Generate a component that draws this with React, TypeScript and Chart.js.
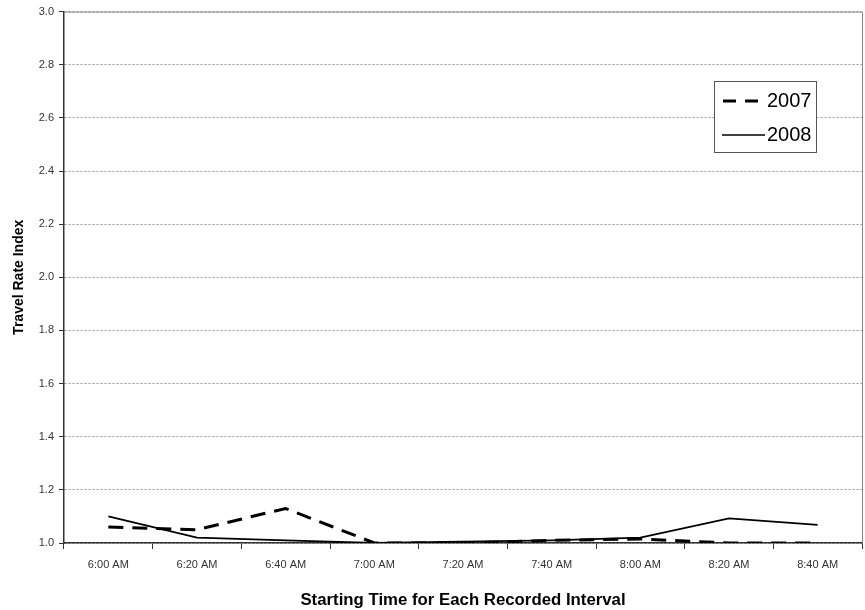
import React, { useEffect, useRef } from "react";
import { Chart, registerables } from "chart.js";

Chart.register(...registerables);

const categories = ["6:00 AM", "6:20 AM", "6:40 AM", "7:00 AM", "7:20 AM", "7:40 AM", "8:00 AM", "8:20 AM", "8:40 AM"];
const series2007 = [1.06, 1.05, 1.13, 1.0, 1.0, 1.01, 1.015, 1.0, 1.0];
const series2008 = [1.1, 1.02, 1.01, 1.0, 1.005, 1.01, 1.02, 1.093, 1.068];
const yTicks = [1.0, 1.2, 1.4, 1.6, 1.8, 2.0, 2.2, 2.4, 2.6, 2.8, 3.0];

const FONT = "'Liberation Sans', Arial, sans-serif";

const frameAndLegend = {
  id: "frameAndLegend",
  afterDraw(chart: any) {
    const { ctx, chartArea } = chart;
    ctx.save();
    ctx.strokeStyle = "#888";
    ctx.lineWidth = 1;
    ctx.beginPath();
    ctx.moveTo(chartArea.left, chartArea.top + 0.5);
    ctx.lineTo(chartArea.right + 0.5, chartArea.top + 0.5);
    ctx.lineTo(chartArea.right + 0.5, chartArea.bottom);
    ctx.stroke();
    const x = 714, y = 81, w = 102, h = 71;
    ctx.fillStyle = "#fff";
    ctx.fillRect(x, y, w, h);
    ctx.strokeStyle = "#555";
    ctx.lineWidth = 1;
    ctx.strokeRect(x + 0.5, y + 0.5, w, h);
    ctx.strokeStyle = "#000";
    ctx.lineWidth = 3;
    ctx.setLineDash([13, 9]);
    ctx.beginPath();
    ctx.moveTo(723, 101);
    ctx.lineTo(764, 101);
    ctx.stroke();
    ctx.setLineDash([]);
    ctx.lineWidth = 1.5;
    ctx.beginPath();
    ctx.moveTo(722, 135);
    ctx.lineTo(765, 135);
    ctx.stroke();
    ctx.fillStyle = "#000";
    ctx.font = "20px " + FONT;
    ctx.textBaseline = "middle";
    ctx.fillText("2007", 767, 101);
    ctx.fillText("2008", 767, 135);
    ctx.restore();
  },
};

export default function App() {
  const ref = useRef<HTMLCanvasElement>(null);
  useEffect(() => {
    if (!ref.current) return;
    const chart = new Chart(ref.current, {
      type: "line",
      data: {
        labels: categories,
        datasets: [
          {
            label: "2007",
            data: series2007,
            borderColor: "#000",
            borderWidth: 3,
            borderDash: [15, 9],
            pointRadius: 0,
            fill: false,
            tension: 0,
          },
          {
            label: "2008",
            data: series2008,
            borderColor: "#000",
            borderWidth: 1.8,
            pointRadius: 0,
            fill: false,
            tension: 0,
          },
        ],
      },
      options: {
        animation: false,
        responsive: false,
        maintainAspectRatio: false,
        layout: { padding: { top: 10, right: 3, left: 0, bottom: 0 } },
        plugins: { legend: { display: false }, tooltip: { enabled: false } },
        scales: {
          x: {
            offset: true,
            grid: {
              display: true,
              drawOnChartArea: false,
              offset: true,
              tickLength: 6,
              color: "#333",
            },
            border: { color: "#333", width: 1.5 },
            ticks: {
              color: "#333",
              font: { family: FONT, size: 11 },
              padding: 9,
              maxRotation: 0,
            },
            title: {
              display: true,
              text: "Starting Time for Each Recorded Interval",
              color: "#000",
              font: { family: FONT, size: 16.8, weight: "bold" },
              padding: { top: 13, bottom: 0 },
            },
            afterFit(scale: any) {
              scale.height = 67;
            },
          },
          y: {
            min: 1.0,
            max: 3.0,
            afterBuildTicks(scale: any) {
              scale.ticks = yTicks.map((v) => ({ value: v }));
            },
            grid: {
              color: "#999",
              tickColor: "#333",
              tickLength: 5,
            } as any,
            border: { color: "#333", width: 1.5, dash: [2, 2] },
            ticks: {
              color: "#333",
              font: { family: FONT, size: 11 },
              padding: 5,
              callback: (v: any) => Number(v).toFixed(1),
            },
            title: {
              display: true,
              text: "Travel Rate Index",
              color: "#000",
              font: { family: FONT, size: 14, weight: "bold" },
              padding: { top: 11, bottom: 6 },
            },
            afterFit(scale: any) {
              scale.width = 64;
            },
          },
        },
      },
      plugins: [frameAndLegend],
    });
    return () => chart.destroy();
  }, []);
  return (
    <div style={{ position: "fixed", left: 0, top: 0, width: 865, height: 610, background: "#fff" }}>
      <canvas ref={ref} width={865} height={610} style={{ width: 865, height: 610 }} />
    </div>
  );
}
